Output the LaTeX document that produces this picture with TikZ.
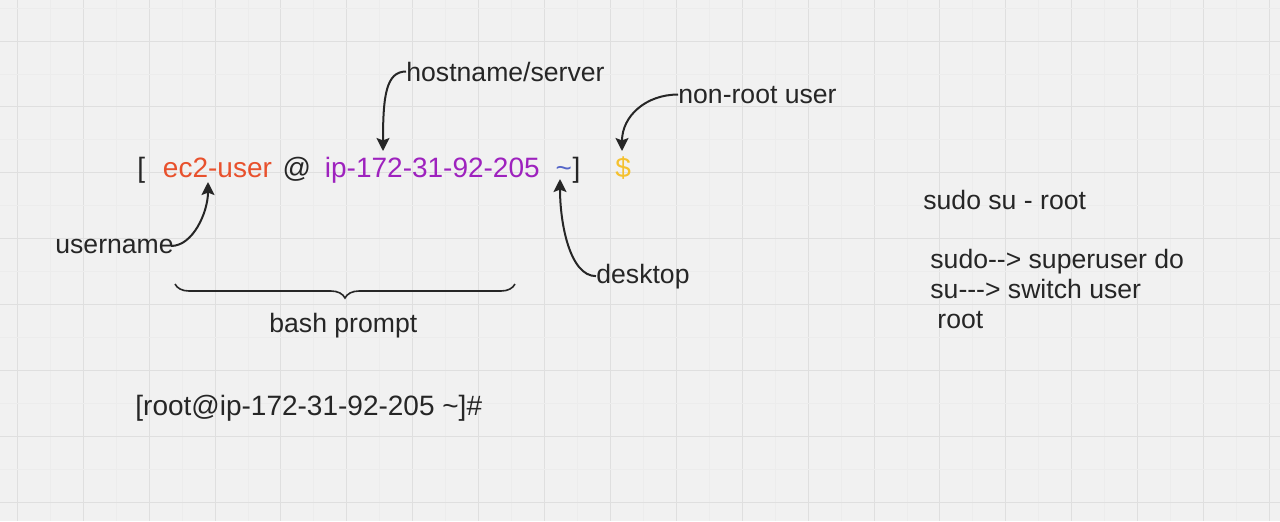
\documentclass[tikz,border=0pt]{standalone}
\usepackage{fontspec}
\setmainfont{Liberation Sans}
\usetikzlibrary{arrows.meta,positioning,decorations.pathreplacing}
\definecolor{paper}{HTML}{F1F1F1}
\definecolor{gridMajor}{HTML}{DFDFDF}
\definecolor{gridMinor}{HTML}{ECECEC}
\definecolor{ink}{HTML}{262626}
\definecolor{userRed}{HTML}{E8512D}
\definecolor{hostPurple}{HTML}{9E22BE}
\definecolor{tildeBlue}{HTML}{5566C8}
\definecolor{dollarGold}{HTML}{F5C12E}
\tikzstyle{promptNode} = [inner sep=0pt, anchor=base west, text=ink, font=\fontsize{14}{17}\selectfont]
\tikzstyle{promptRed} = [promptNode, text=userRed]
\tikzstyle{promptPurple} = [promptNode, text=hostPurple]
\tikzstyle{promptBlue} = [promptNode, text=tildeBlue]
\tikzstyle{promptGold} = [promptNode, text=dollarGold]
\tikzstyle{noteNode} = [inner sep=0pt, anchor=base west, text=ink, font=\fontsize{13.3}{16}\selectfont]
\tikzstyle{majorLine} = [draw=gridMajor, line width=0.5pt]
\tikzstyle{minorLine} = [draw=gridMinor, line width=0.4pt]
\tikzstyle{arrowK} = [line width=1pt,->,>={Stealth[length=6.5pt,width=6.5pt,inset=1.2pt]},draw=ink]
\tikzstyle{braceK} = [line width=0.8pt,draw=ink,decorate,decoration={brace,mirror,amplitude=7pt}]

\begin{document}
\begin{tikzpicture}[x=0.5pt,y=-0.5pt]
    % paper and grid
    \fill[paper] (0,0) rectangle (1280,521);
    \useasboundingbox (0,0) rectangle (1280,521);
    \foreach \gx in {0,...,19} {
        \draw[minorLine] ({50.2+65.9*\gx},0) -- ({50.2+65.9*\gx},521);
        \draw[majorLine] ({17.3+65.9*\gx},0) -- ({17.3+65.9*\gx},521);
    }
    \foreach \gy in {0,...,7} {
        \draw[minorLine] (0,{8+65.9*\gy}) -- (1280,{8+65.9*\gy});
        \draw[majorLine] (0,{41+65.9*\gy}) -- (1280,{41+65.9*\gy});
    }

    % the prompt
    \node (lbrack) [promptNode] at (137,177) {[};
    \node (user) [promptRed, base right=8.5pt of lbrack] {ec2-user};
    \node (at) [promptNode, base right=5pt of user] {@};
    \node (host) [promptPurple, base right=6.5pt of at] {ip-172-31-92-205};
    \node (tilde) [promptBlue, base right=7.5pt of host] {\textasciitilde};
    \node (rbrack) [promptNode, base right=0pt of tilde] {]};
    \node (dollar) [promptGold, base right=17pt of rbrack] {\$};

    % labels
    \node (hostname) [noteNode] at (406,81) {hostname/server};
    \node (nonroot) [noteNode] at (678,103) {non-root user};
    \node (username) [noteNode] at (55,253) {username};
    \node (desktop) [noteNode] at (596,283) {desktop};
    \node (bash) [noteNode] at (269,332) {bash prompt};
    \node (rootline) [promptNode] at (135,415) {[root@ip-172-31-92-205 \textasciitilde]\#};

    \node (sudosu) [noteNode] at (923,209) {sudo su - root};
    \node (sudodo) [noteNode] at (930,268) {sudo-{}-> superuser do};
    \node (suswitch) [noteNode] at (930,298) {su-{}-{}-> switch user};
    \node (rootword) [noteNode] at (937,328) {root};

    % arrow ends
    \coordinate (hostTip) at (383,151);
    \coordinate (dollarTip) at (622,151);
    \coordinate (userTip) at (208,182);
    \coordinate (tildeTip) at (560,179);
    \coordinate (braceL) at (175,284);
    \coordinate (braceR) at (515,284);

    \draw [arrowK] (hostname.west) .. controls +(-20,0) and +(0,-55) .. (hostTip);
    \draw [arrowK] (nonroot.west) .. controls +(-32,0) and +(0,-35) .. (dollarTip);
    \draw [arrowK] ([xshift=-1.5pt]username.east) .. controls +(22,0) and +(0,30) .. (userTip);
    \draw [arrowK] (desktop.west) .. controls +(-26,0) and +(0,45) .. (tildeTip);

    \draw [braceK] (braceL) -- (braceR);
\end{tikzpicture}
\end{document}
